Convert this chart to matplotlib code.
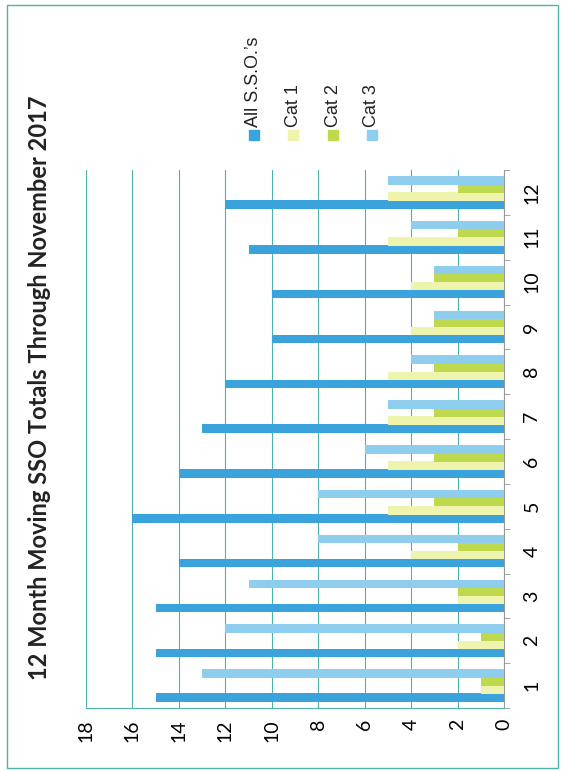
import matplotlib.pyplot as plt
import numpy as np
from matplotlib.patches import Rectangle

plt.rcParams['font.family'] = ['Lato', 'DejaVu Sans']

months = [str(m) for m in range(1, 13)]
all_sso = [15, 15, 15, 14, 16, 14, 13, 12, 10, 10, 11, 12]
cat1 = [1, 2, 2, 4, 5, 5, 5, 5, 4, 4, 5, 5]
cat2 = [1, 1, 2, 2, 3, 3, 3, 3, 3, 3, 2, 2]
cat3 = [13, 12, 11, 8, 8, 6, 5, 4, 3, 3, 4, 5]
value_ticks = list(range(0, 20, 2))

series = [
    ("All S.S.O.\u2019s", all_sso, '#3aa3dc'),
    ("Cat 1", cat1, '#eef3ad'),
    ("Cat 2", cat2, '#bfd94f'),
    ("Cat 3", cat3, '#8ecdee'),
]
grid_col = '#4db3a8'

fig = plt.figure(figsize=(5.66, 7.71), dpi=100)
W, H = 566, 771
ax = fig.add_axes((86 / W, 1 - 708 / H, (504 - 86) / W, (708 - 170) / H))

y = np.arange(1, 13)
bar_h = 0.19
offsets = [-0.27, -0.09, 0.09, 0.27]
for (name, vals, col), off in zip(series, offsets):
    ax.barh(y + off, vals, height=bar_h, color=col, zorder=3)

ax.set_xlim(18, 0)
ax.set_ylim(0.5, 12.5)
ax.set_xticks(value_ticks)
ax.set_xticklabels([str(v) for v in value_ticks], rotation=90, fontsize=14)
ax.xaxis.grid(True, color=grid_col, linewidth=0.8, zorder=0)
ax.tick_params(axis='x', length=0, pad=8)

ax.yaxis.tick_right()
ax.set_yticks(y)
ax.set_yticklabels(months, rotation=90, fontsize=14, va='center')
ax.set_yticks(np.arange(0.5, 13, 1), minor=True)
ax.tick_params(axis='y', which='major', length=0, pad=14)
ax.tick_params(axis='y', which='minor', length=4, color='#999999')

ax.spines['top'].set_visible(False)
ax.spines['left'].set_visible(False)
ax.spines['bottom'].set_color(grid_col)
ax.spines['bottom'].set_linewidth(0.8)
ax.spines['right'].set_color('#999999')
ax.spines['right'].set_linewidth(0.8)

fig.text(40 / W, 1 - 388 / H, "12 Month Moving SSO Totals Through November 2017",
         rotation=90, fontsize=17, fontweight='bold', ha='center', va='center',
         color='#222222')

for i, (name, vals, col) in enumerate(series):
    xc = [254, 293, 333, 372][i]
    fig.patches.append(Rectangle(((xc - 5) / W, 1 - 140 / H), 10 / W, 10 / H,
                                 transform=fig.transFigure, color=col))
    fig.text(xc / W, 1 - 127 / H, name, rotation=90, fontsize=13,
             family=['Liberation Sans', 'DejaVu Sans'],
             ha='center', va='bottom', color='#222222')

fig.patches.append(Rectangle((7 / W, 1 - 768 / H), (558 - 7) / W, (768 - 5) / H,
                             transform=fig.transFigure, fill=False,
                             edgecolor=grid_col, linewidth=1))

fig.savefig('out.png', dpi=100)
